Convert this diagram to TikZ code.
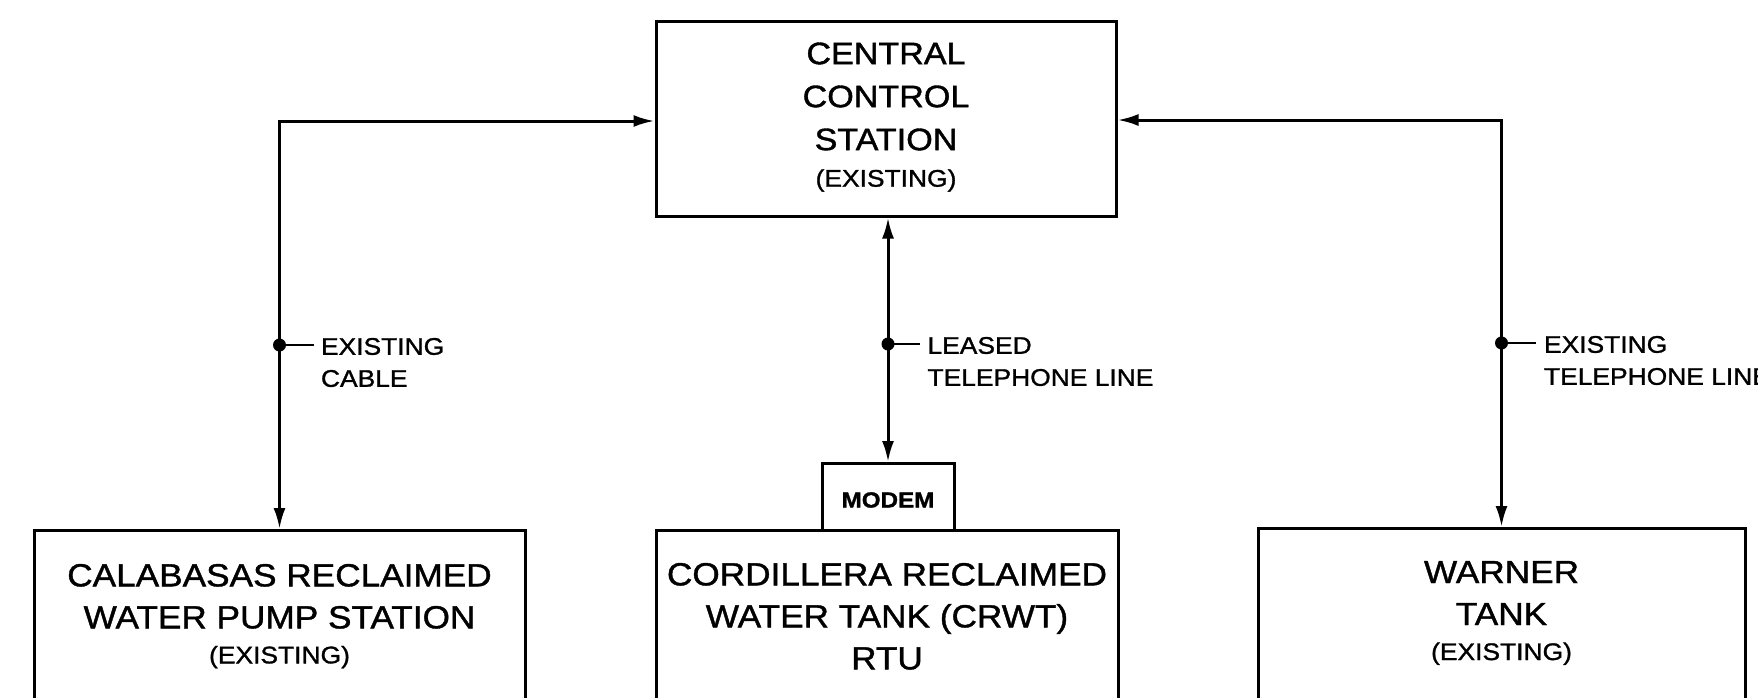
\documentclass[tikz,border=0pt]{standalone}
\usepackage{fontspec}
\setmainfont[FakeStretch=1.1,FakeBold=1.2]{Liberation Sans}
\usetikzlibrary{arrows.meta}
\begin{document}
\begin{tikzpicture}[x=1pt,y=-1pt,line width=3pt,
  box/.style={draw,line width=3pt,inner sep=0pt},
  bigtxt/.style={align=center,inner sep=0pt,anchor=north,font=\fontsize{32}{42}\selectfont},
  midtxt/.style={align=center,inner sep=0pt,anchor=north,font=\fontsize{31}{43}\selectfont},
  lbl/.style={align=left,inner sep=0pt,anchor=north west,font=\fontsize{24}{32}\selectfont},
  tap/.style={fill,circle,inner sep=0pt,minimum size=13pt},
  link/.style={line width=3pt,{Latex[length=21pt,width=12pt]}-{Latex[length=21pt,width=12pt]}}]
\useasboundingbox (0,0) rectangle (1758,697);

% boxes
\node[box,minimum width=460pt,minimum height=195pt] (ccs) at (886,118.5) {};
\node[midtxt] (ccst) at (886,41) {CENTRAL\\CONTROL\\STATION\\[-6.5pt]{\fontsize{24}{30}\selectfont (EXISTING)}};

\node[box,anchor=north,minimum width=491pt,minimum height=240pt] (cal) at (279.5,529) {};
\node[bigtxt] (calt) at (279.5,562.5) {CALABASAS RECLAIMED\\WATER PUMP STATION\\[-7pt]{\fontsize{24}{30}\selectfont (EXISTING)}};

\node[box,anchor=north,minimum width=462pt,minimum height=240pt] (cor) at (887,529) {};
\node[bigtxt] (cort) at (887,561.5) {CORDILLERA RECLAIMED\\WATER TANK (CRWT)\\RTU};

\node[box,anchor=north,minimum width=132pt,minimum height=67pt] (modem) at (888,462) {};
\node[inner sep=0pt,font=\bfseries\fontsize{22}{26}\selectfont] (modemt) at (888,500) {MODEM};

\node[box,anchor=north,minimum width=487pt,minimum height=240pt] (war) at (1501.5,527) {};
\node[bigtxt] (wart) at (1501.5,559.5) {WARNER\\TANK\\[-7pt]{\fontsize{24}{30}\selectfont (EXISTING)}};

% connectors
\coordinate (lk) at (cal.north |- 0,121);
\draw[link] (cal.north) -- (lk) -- ([yshift=-2.5pt]ccs.west);
\coordinate (rk) at (war.north |- 0,120);
\draw[link] (war.north) -- (rk) -- ([yshift=-1.5pt]ccs.east);
\draw[link] (modem.north) -- (ccs.south -| modem.north);

% taps and labels
\node[tap] (t1) at (cal.north |- 0,345) {};
\coordinate (d1) at ([xshift=34pt]t1.center);
\draw[line width=2.5pt] (t1.center) -- (d1);
\node[lbl] (l1) at ([xshift=40pt,yshift=8.5pt]t1.center) {EXISTING\\CABLE};

\node[tap] (t2) at (modem.north |- 0,344) {};
\coordinate (d2) at ([xshift=32pt]t2.center);
\draw[line width=2.5pt] (t2.center) -- (d2);
\node[lbl] (l2) at ([xshift=38pt,yshift=8.5pt]t2.center) {LEASED\\TELEPHONE LINE};

\node[tap] (t3) at (war.north |- 0,343) {};
\coordinate (d3) at ([xshift=34pt]t3.center);
\draw[line width=2.5pt] (t3.center) -- (d3);
\node[lbl] (l3) at ([xshift=41pt,yshift=8.5pt]t3.center) {EXISTING\\TELEPHONE LINE};
\end{tikzpicture}
\end{document}
